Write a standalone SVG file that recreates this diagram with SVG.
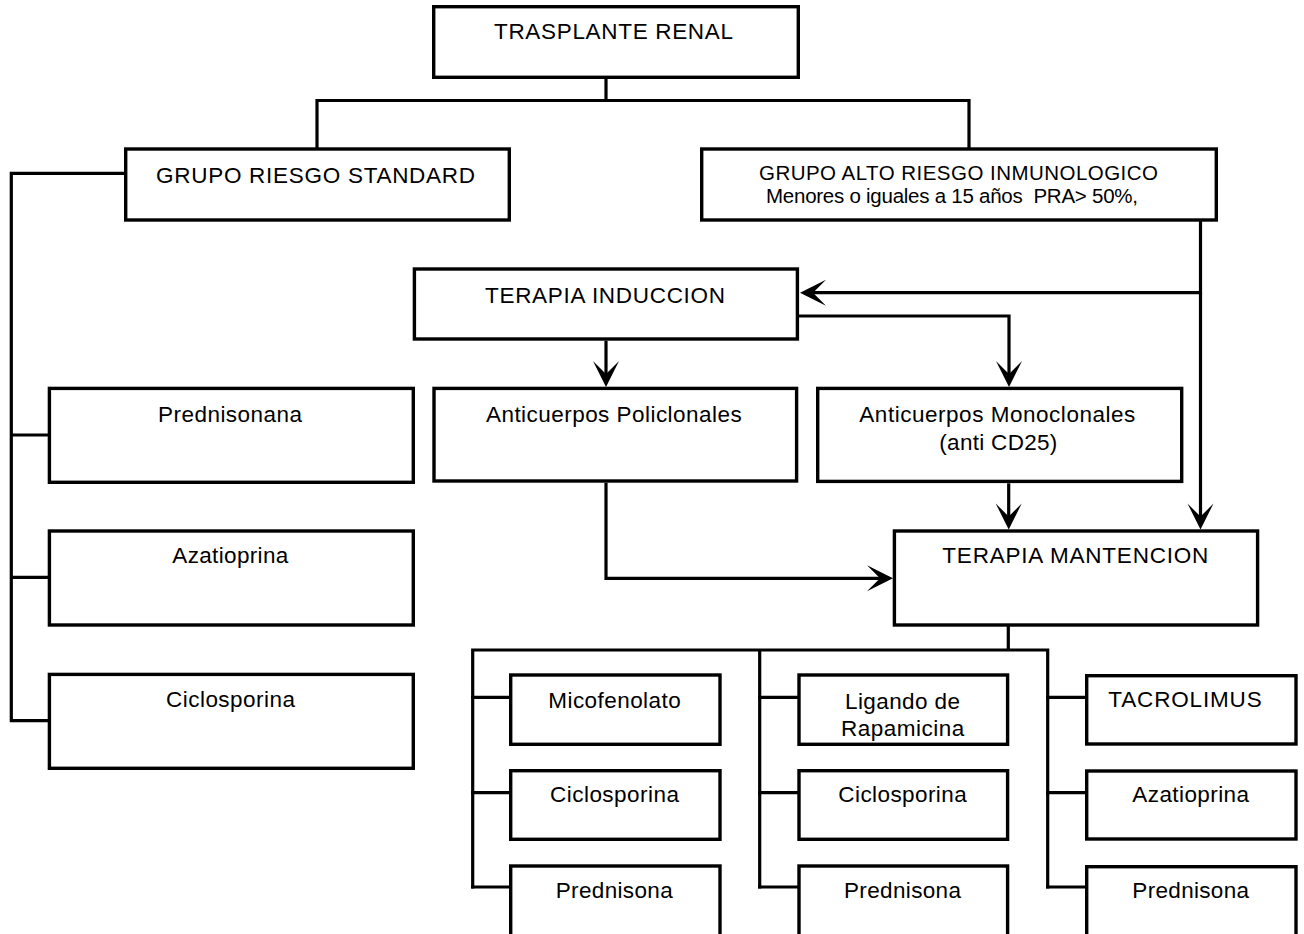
<svg xmlns="http://www.w3.org/2000/svg" width="1304" height="934" viewBox="0 0 1304 934">
<style>
.box{fill:#fff;stroke:#000;stroke-width:3.4}
.ln{fill:none;stroke:#000;stroke-width:3.2;stroke-linejoin:miter;stroke-linecap:square}
.ar{fill:none;stroke:#000;stroke-width:3.2;stroke-linecap:butt;marker-end:url(#ah)}
text{font-family:"Liberation Sans",Arial,sans-serif;font-size:22.5px;fill:#000;text-anchor:middle}
.sm{font-size:20.5px}
</style>
<defs>
<marker id="ah" markerUnits="userSpaceOnUse" viewBox="-28 -14 30 28" refX="-4" refY="0" markerWidth="30" markerHeight="28" orient="auto">
<path d="M0,0 L-26,-13 L-13,0 L-26,13 Z" fill="#000"/>
</marker>
</defs>
<rect width="1304" height="934" fill="#fff"/>
<g id="connectors">
<path class="ln" d="M606,79 V100.5 M317,100.5 H969 M317,100.5 V147 M969,100.5 V148"/>
<path class="ln" d="M126,173.3 H11.3 V720.7 M11.3,435 H48 M11.3,577.3 H48 M11.3,720.7 H48"/>
<path class="ln" d="M1200.5,221.5 V292.7"/>
<path class="ar" d="M1200.5,292.7 H804"/>
<path class="ar" d="M1200.5,292.7 V525.5"/>
<path class="ar" d="M799,316 H1009 V383"/>
<path class="ar" d="M606,340.7 V383"/>
<path class="ar" d="M1008.7,483.3 V525.5"/>
<path class="ar" d="M606,482.7 V578.3 H889"/>
<path class="ln" d="M1008.3,626.7 V650 M472.7,650 H1047.7 M472.7,650 V887 M759.7,650 V887 M1047.7,650 V887"/>
<path class="ln" d="M472.7,697.3 H509 M472.7,792.7 H509 M472.7,887 H509 M759.7,697.3 H797 M759.7,792.7 H797 M759.7,887 H797 M1047.7,697.3 H1085 M1047.7,792.7 H1085 M1047.7,887 H1085"/>
</g>
<g id="n-trasplante"><rect class="box" x="433.7" y="6.7" width="364.6" height="70.6"/><text x="613.5" y="38.5" textLength="239" lengthAdjust="spacing">TRASPLANTE RENAL</text></g>
<g id="n-standard"><rect class="box" x="125.7" y="149" width="383.6" height="71"/><text x="315.5" y="182.8" textLength="319" lengthAdjust="spacing">GRUPO RIESGO STANDARD</text></g>
<g id="n-alto"><rect class="box" x="701.7" y="149" width="514.6" height="71"/><text class="sm" x="958.5" y="180" textLength="399" lengthAdjust="spacing">GRUPO ALTO RIESGO INMUNOLOGICO</text><text class="sm" x="952" y="203" textLength="372" lengthAdjust="spacing" xml:space="preserve">Menores o iguales a 15 años  PRA&gt; 50%,</text></g>
<g id="n-induccion"><rect class="box" x="414.4" y="269" width="383" height="70"/><text x="605" y="302.8" textLength="240" lengthAdjust="spacing">TERAPIA INDUCCION</text></g>
<g id="n-policlonales"><rect class="box" x="434" y="388.4" width="362.6" height="92.6"/><text x="613.8" y="422" textLength="255.7" lengthAdjust="spacing">Anticuerpos Policlonales</text></g>
<g id="n-monoclonales"><rect class="box" x="817.7" y="388.4" width="364" height="93"/><text x="997.3" y="421.5" textLength="276" lengthAdjust="spacing">Anticuerpos Monoclonales</text><text x="998.3" y="449.5" textLength="118" lengthAdjust="spacing">(anti CD25)</text></g>
<g id="n-mantencion"><rect class="box" x="894.4" y="531" width="363.2" height="94"/><text x="1075.3" y="563" textLength="266" lengthAdjust="spacing">TERAPIA MANTENCION</text></g>
<g id="n-prednisonana"><rect class="box" x="49.4" y="388.4" width="363.9" height="93.9"/><text x="230" y="421.5" textLength="144" lengthAdjust="spacing">Prednisonana</text></g>
<g id="n-azatioprina-s"><rect class="box" x="49.4" y="531" width="363.9" height="94"/><text x="230.3" y="563" textLength="116" lengthAdjust="spacing">Azatioprina</text></g>
<g id="n-ciclosporina-s"><rect class="box" x="49.4" y="674.4" width="363.9" height="93.9"/><text x="230.5" y="707" textLength="129" lengthAdjust="spacing">Ciclosporina</text></g>
<g id="n-micofenolato"><rect class="box" x="510.7" y="675" width="209.3" height="69.3"/><text x="614.5" y="707.5" textLength="132.4" lengthAdjust="spacing">Micofenolato</text></g>
<g id="n-ciclosporina-1"><rect class="box" x="510.7" y="770.7" width="209.3" height="68.6"/><text x="614.5" y="802" textLength="129" lengthAdjust="spacing">Ciclosporina</text></g>
<g id="n-prednisona-1"><rect class="box" x="510.7" y="866" width="209.3" height="100"/><text x="614.2" y="898" textLength="117" lengthAdjust="spacing">Prednisona</text></g>
<g id="n-ligando"><rect class="box" x="799" y="675" width="208.6" height="69.3"/><text x="902.5" y="708.5" textLength="115" lengthAdjust="spacing">Ligando de</text><text x="902.7" y="736" textLength="123.3" lengthAdjust="spacing">Rapamicina</text></g>
<g id="n-ciclosporina-2"><rect class="box" x="799" y="770.7" width="208.6" height="68.6"/><text x="902.5" y="802" textLength="128.4" lengthAdjust="spacing">Ciclosporina</text></g>
<g id="n-prednisona-2"><rect class="box" x="799" y="866" width="208.6" height="100"/><text x="902.5" y="898" textLength="117" lengthAdjust="spacing">Prednisona</text></g>
<g id="n-tacrolimus"><rect class="box" x="1086.7" y="675.7" width="209.3" height="68.3"/><text x="1185" y="707" textLength="153.4" lengthAdjust="spacing">TACROLIMUS</text></g>
<g id="n-azatioprina-3"><rect class="box" x="1086.7" y="771" width="209.3" height="68"/><text x="1190.7" y="802" textLength="116.7" lengthAdjust="spacing">Azatioprina</text></g>
<g id="n-prednisona-3"><rect class="box" x="1086.7" y="866.7" width="209.3" height="100"/><text x="1190.7" y="897.5" textLength="116.7" lengthAdjust="spacing">Prednisona</text></g>
</svg>
